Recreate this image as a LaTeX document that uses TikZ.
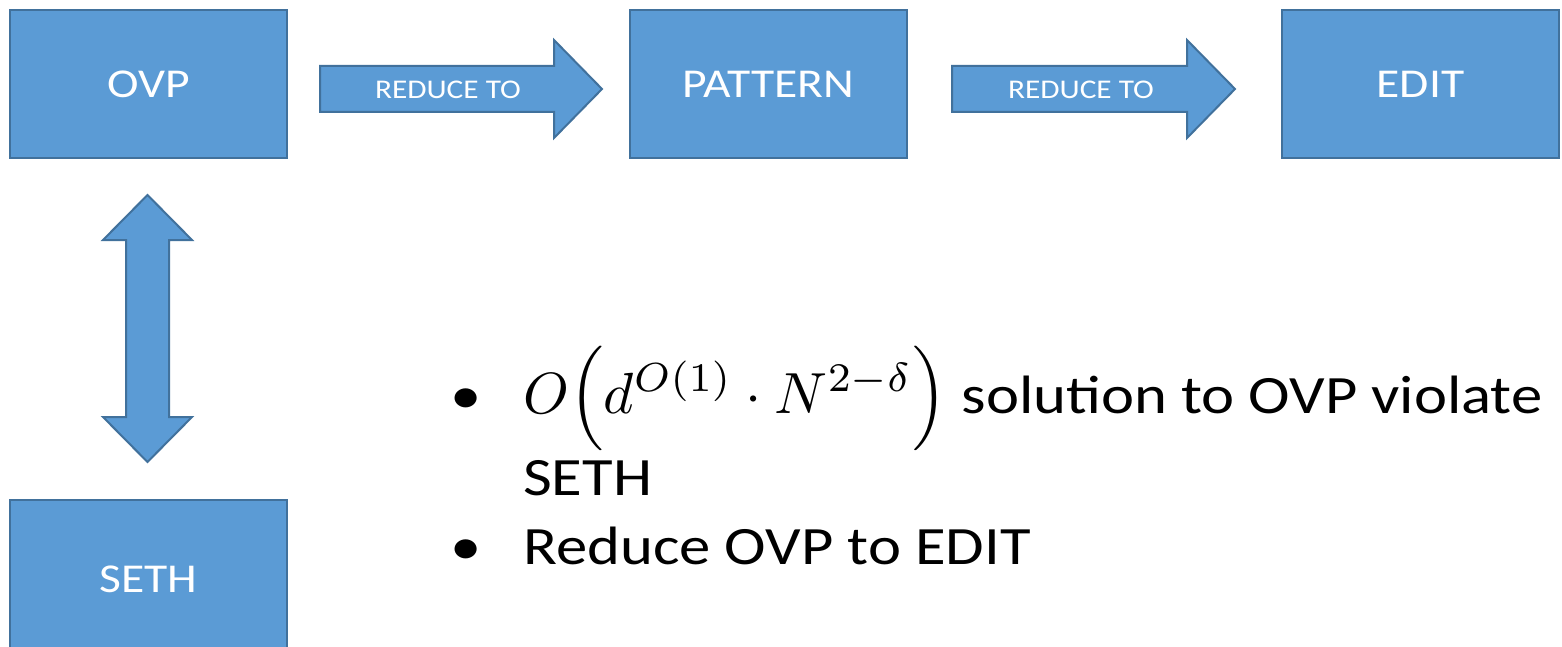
\documentclass[tikz,border=0pt]{standalone}
\usepackage{fontspec}
\setmainfont{Carlito}[FakeStretch=1.16]
\definecolor{boxfill}{HTML}{5B9BD5}
\definecolor{boxedge}{HTML}{41719C}
\newcommand{\bigmath}[1]{{\fontsize{10}{12}\selectfont\resizebox{424pt}{!}{#1}}}
\begin{document}
\begin{tikzpicture}[x=1pt,y=-1pt,
  blk/.style={draw=boxedge, fill=boxfill, line width=2pt, line join=miter},
  boxbox/.style={blk, minimum width=277pt, minimum height=148pt, anchor=north west,
    text=white, font=\fontsize{41}{48}\selectfont},
  arrtext/.style={text=white, font=\fontsize{27}{32}\selectfont, inner sep=0pt},
  bodytext/.style={font=\fontsize{54}{64}\selectfont, anchor=base west, inner sep=0pt}]
\clip (0,0) rectangle (1562,647);
\fill[white] (0,0) rectangle (1562,647);

% boxes
\node[boxbox] (ovp) at (9,9) {OVP};
\node[boxbox] (pattern) at (629,9) {PATTERN};
\node[boxbox] (edit) at (1281,9) {EDIT};
\node[boxbox, minimum height=158pt] (seth) at (9,499) {SETH};

% block arrows
\draw[blk] (320,66) -- (554,66) -- (554,40) -- (602,89) -- (554,138) -- (554,112) -- (320,112) -- cycle;
\node[arrtext] (r1) at (448,90) {REDUCE TO};
\draw[blk] (952,66) -- (1187,66) -- (1187,40) -- (1235,89) -- (1187,138) -- (1187,112) -- (952,112) -- cycle;
\node[arrtext] (r2) at (1081,90) {REDUCE TO};

% double arrow
\draw[blk] (147.5,195) -- (192,240) -- (169,240) -- (169,417) -- (192,417) -- (147.5,462)
  -- (103,417) -- (126,417) -- (126,240) -- (103,240) -- cycle;

% bullet text
\node[bodytext] (b1) at (450,413) {•};
\node[bodytext] (l1) at (523,413) {\bigmath{$O\Bigl(d^{O(1)}\cdot N^{2-\delta}\Bigr)$} solution to OVP violate};
\node[bodytext] (l2) at (523,495) {SETH};
\node[bodytext] (b2) at (450,564) {•};
\node[bodytext] (l3) at (523,564) {Reduce OVP to EDIT};
\end{tikzpicture}
\end{document}
